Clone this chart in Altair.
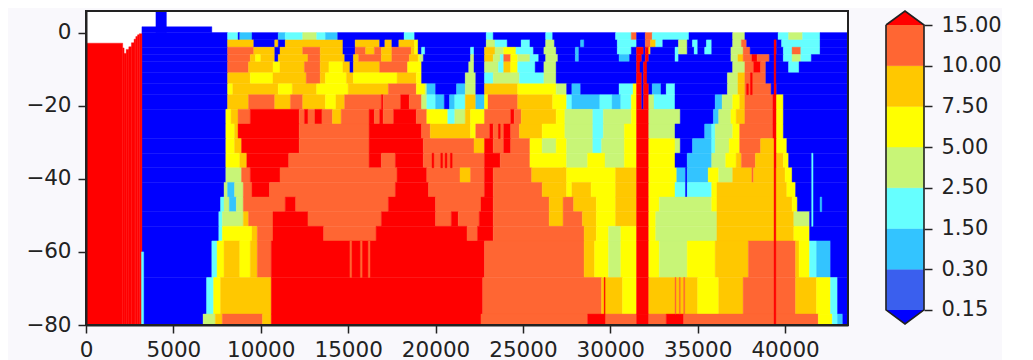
import altair as alt
import pandas as pd

# colour codes, lowest band to highest
level_codes = list("abcdefghi")
level_colors = ["#0000ff", "#3a5fee", "#33c4ff", "#66ffff", "#c8f577", "#ffff00", "#ffc800", "#ff6633", "#ff0000"]
tick_labels = ["0.15", "0.30", "1.50", "2.50", "5.00", "7.50", "10.00", "15.00"]

# depth bands (m)
row_top = [0, -2, -4, -6, -8, -11, -14, -17, -21, -25, -29, -33, -37, -41, -45, -49, -53, -57, -67, -77]
row_bottom = [-2, -4, -6, -8, -11, -14, -17, -21, -25, -29, -33, -37, -41, -45, -49, -53, -57, -67, -77, -80]

# run lengths for each band: level code + end of run along x, in hundreds of metres, from x=32
row_runs = [
    "a81 d87 a88 c95 a110 c114 d124 e132 d137 c144 a182 d188 a229 d233 a263 d267 a303 d312 h315 a320 h324 d345 a370 e377 a396 d402 e410 d420 a436",
    "a81 g96 a108 g110 a114 g147 a154 g168 a171 g175 a179 g188 f190 a229 e234 d241 a249 d254 a263 e268 a283 c285 a304 d315 a320 h323 g326 d330 a339 e344 a347 d350 a355 d358 a370 e375 h378 a394 i395 a398 d420 a436",
    "a81 h96 g108 a111 g124 h134 g147 a154 h160 g165 h169 g175 h186 g188 f190 a192 d194 a220 d222 a228 g234 e239 f246 d256 a262 e269 a280 c282 a304 d312 a315 i319 a320 i322 g323 a337 d339 e344 a348 d350 a354 d358 a369 e376 h380 a394 i395 a399 d404 h409 d420 a436",
    "a81 h94 g97 f100 g108 a110 g127 h134 g148 a153 g156 h169 g175 h185 g190 f191 e193 a220 e222 a228 g233 e237 d239 h243 f247 e254 d259 a263 e270 a280 c282 a305 c311 a315 i318 a320 i322 a337 d339 a369 e373 g376 h381 i384 h391 a399 d404 e409 d415 a436",
    "a81 h93 g107 f111 g125 h134 g139 f147 g151 a153 g168 h184 f192 a219 e222 a228 e236 d239 g243 f247 d257 a262 e269 a315 i317 a319 i321 a370 e377 h382 i386 h389 a402 d408 a436",
    "a81 g94 f107 g126 h134 g137 f149 g153 f178 g189 f192 a217 e223 a228 d233 e248 d262 e269 a315 i318 a319 i321 a367 e373 g377 h389 a436",
    "a81 f84 g110 f118 g132 f150 g173 h189 f194 e195 c200 a212 c217 e223 a228 g247 f269 e275 a278 c283 a305 d313 f315 i318 a319 i322 a324 c329 a332 d337 a367 e373 g377 h392 a394 i395 a436",
    "a81 g93 h108 g117 h124 g137 f143 g148 h169 i170 h180 i185 h192 e195 d200 c205 a208 c211 d217 g223 c228 f230 h247 g267 f275 d278 c294 d301 c306 d312 f315 i318 a319 i322 e325 d337 a360 c364 e370 f374 g377 h393 i395 f399 a436",
    "a80 f83 g87 h94 i122 h125 i127 h131 i135 h141 g146 h162 i165 h168 i170 h176 i189 h195 f207 d211 e217 g220 f228 h243 i245 h249 g269 f274 e290 d296 e312 f315 i322 e340 a359 c362 e369 f372 g377 h393 i395 f399 a436",
    "a80 f85 g87 i122 h162 i192 h197 g220 f223 h231 i233 h239 i243 h248 g261 f274 e290 d296 e308 f315 i322 e337 a354 c358 d360 e370 f374 h393 i395 f399 a436",
    "a80 f85 g89 i122 h162 i193 h222 g228 i233 h239 i243 h254 f261 e269 f275 e290 d295 e308 f315 i322 f337 e340 a347 c358 d360 e368 f374 h386 g394 i395 f401 a436",
    "a80 f88 g92 i116 h162 i169 h177 i193 h228 i237 h254 f275 e287 f297 e308 f315 i322 f337 a344 c358 e366 f372 g375 h383 g394 i395 g399 f402 a436",
    "a80 e89 h94 i111 h178 i195 h214 g220 h228 i233 h255 g275 f303 g315 i322 f338 c343 a344 c356 f362 e370 g381 h382 g400 f404 a436",
    "a79 e81 c85 e90 h95 i105 h177 i196 h228 i233 h261 g275 f278 g289 f303 g315 i322 f337 d343 a344 d358 f361 g401 f406 a436",
    "a77 d79 e82 c86 e90 h114 i120 h173 i200 h226 i233 h265 g273 h279 g292 f303 g315 i322 f328 e358 f361 g404 f407 a436",
    "a76 d78 e90 g93 h107 i127 h169 i200 h209 i213 h225 i233 h265 g273 h284 g292 f303 g315 i322 f326 e361 g405 e414 a436",
    "a76 d78 f95 g98 h107 i136 h166 i218 h224 i233 h285 g292 f299 e306 f315 i322 f326 e361 g405 f414 a436",
    "a72 d75 f79 g88 f94 g98 h106 i228 h285 g291 f299 e306 f315 i322 f328 e344 f360 g379 h406 g408 f414 d418 c426 a436",
    "a69 d73 f77 g106 i227 h295 g307 f315 i322 g350 f362 g376 h406 g418 f426 d430 a436",
    "a67 e74 g78 h101 g106 i226 h287 i297 h315 i322 h332 i342 h419 f427 d430 c433 a436",
]

# red column on the left: end along x (hundreds of metres) and its top depth (m)
red_ends = [21, 21.8, 23, 24.5, 26, 27.5, 28.5, 29.5, 30.5, 32]
red_tops = [-2.9, -4.2, -5.7, -4.6, -3.9, -2.8, -1.8, -1.1, -0.6, -0.3]

# blue above the surface: start, end, height (m)
blue_starts = [32, 40]
blue_ends = [72, 46]
blue_heights = [1.6, 5.9]

# narrow streaks: start, end (hundreds of metres), top, bottom (m), level
streak_start = [393.7, 151, 157, 161.5, 198, 203, 205.5, 208.5, 273, 380.2, 415.2, 420, 31.7, 296.5, 337, 339.5, 342, 34, 378, 236]
streak_end = [394.7, 152, 158, 162.5, 199, 204, 206.5, 209.5, 274, 381.2, 416, 421, 33, 297, 337.6, 340, 342.6, 35, 379, 237]
streak_top = [-2, -57, -57, -57, -33, -33, -33, -33, -37, -11, -33, -45, -60, -67, -67, -67, -67, -80, -14, -25]
streak_bottom = [-80, -67, -67, -67, -37, -37, -37, -37, -45, -17, -53, -49, -80, -80, -77, -77, -77, -80, -17, -29]
streak_level = ["i", "h", "h", "h", "i", "i", "i", "i", "g", "i", "d", "c", "d", "i", "h", "h", "h", "i", "i", "i"]

records = []
for top, bottom, runs in zip(row_top, row_bottom, row_runs):
    start = 32
    for run in runs.split():
        end = float(run[1:])
        records.append(dict(x0=start * 100, x1=end * 100, y0=top, y1=bottom, level=run[0]))
        start = end
start = 0
for end, top in zip(red_ends, red_tops):
    records.append(dict(x0=start * 100, x1=end * 100, y0=top, y1=-80, level="i"))
    start = end
for s, e, h in zip(blue_starts, blue_ends, blue_heights):
    records.append(dict(x0=s * 100, x1=e * 100, y0=h, y1=0, level="a"))
for s, e, t, b, l in zip(streak_start, streak_end, streak_top, streak_bottom, streak_level):
    records.append(dict(x0=s * 100, x1=e * 100, y0=t, y1=b, level=l))
df = pd.DataFrame(records)

INK = "#222222"
FONT = "DejaVu Sans"
X_MAX, Y_MIN, Y_MAX = 43600, -80, 5.9

color = alt.Color("level:N", scale=alt.Scale(domain=level_codes, range=level_colors), legend=None)
xax = alt.Axis(values=[0, 5000, 10000, 15000, 20000, 25000, 30000, 35000, 40000], format="d", title=None, grid=False,
               labelFontSize=21.5, tickSize=8, tickWidth=1.5, tickColor=INK, labelColor=INK, domainColor=INK,
               domainWidth=2, labelFont=FONT, labelFlush=False, labelPadding=6, zindex=1)
yax = alt.Axis(values=[0, -20, -40, -60, -80], title=None, grid=False, labelFontSize=21.5, tickSize=8, tickWidth=1.5,
               tickColor=INK, labelColor=INK, domainColor=INK, domainWidth=2, labelFont=FONT, labelPadding=7,
               labelExpr="replace(format(datum.value,'d'),'-','\u2212')", zindex=1)

field = alt.Chart(df).mark_rect(strokeWidth=0.4).encode(
    x=alt.X("x0:Q", scale=alt.Scale(domain=[0, X_MAX], nice=False), axis=xax),
    x2="x1:Q",
    y=alt.Y("y0:Q", scale=alt.Scale(domain=[Y_MIN, Y_MAX], nice=False), axis=yax),
    y2="y1:Q",
    color=color,
    stroke=color,
)
frame_df = pd.DataFrame({"x0": [0], "x1": [X_MAX], "y0": [Y_MIN], "y1": [Y_MAX]})
frame = alt.Chart(frame_df).mark_rect(filled=False, stroke=INK, strokeWidth=2).encode(
    x="x0:Q", x2="x1:Q", y="y0:Q", y2="y1:Q"
)
main = alt.layer(field, frame).properties(width=762, height=314, view=alt.ViewBackground(fill="#ffffff", stroke=None))

# colour bar
CB_LOW, CB_HIGH = -0.371, 7.344
cb_df = pd.DataFrame({"low": list(range(7)), "high": list(range(1, 8)), "level": list("bcdefgh"), "x0": [0] * 7, "x1": [1] * 7})
cy = alt.Y("low:Q", scale=alt.Scale(domain=[CB_LOW, CB_HIGH], nice=False),
           axis=alt.Axis(orient="right", values=list(range(8)), title=None, grid=False, domain=False, labelFontSize=21,
                         tickSize=8, tickWidth=1.5, tickColor=INK, labelColor=INK, labelFont=FONT, labelPadding=9,
                         labelExpr="[" + ",".join("'%s'" % t for t in tick_labels) + "][datum.value]"))
cb_bars = alt.Chart(cb_df).mark_rect(strokeWidth=0.4).encode(
    x=alt.X("x0:Q", scale=alt.Scale(domain=[0, 1], nice=False), axis=None),
    x2="x1:Q", y=cy, y2="high:Q", color=color, stroke=color)
up_df = pd.DataFrame({"x": [0, 0.5, 1], "y": [7, CB_HIGH, 7], "base": [7, 7, 7]})
down_df = pd.DataFrame({"x": [0, 0.5, 1], "y": [0, -0.344, 0], "base": [0, 0, 0]})
up = alt.Chart(up_df).mark_area(color="#ff0000").encode(x="x:Q", y="y:Q", y2="base:Q")
down = alt.Chart(down_df).mark_area(color="#0000ff").encode(x="x:Q", y="y:Q", y2="base:Q")
outline_df = pd.DataFrame({"x": [0, 0.5, 1, 1, 0.5, 0, 0], "y": [7, CB_HIGH, 7, 0, -0.344, 0, 7], "o": list(range(7))})
outline = alt.Chart(outline_df).mark_line(color=INK, strokeWidth=1.6, clip=False).encode(x="x:Q", y="y:Q", order="o:Q")
cbar = alt.layer(cb_bars, up, down, outline).properties(
    width=38, height=314, view=alt.ViewBackground(stroke=None))

chart = alt.hconcat(main, cbar, spacing=33, background="#f9f8fc",
                    padding={"left": 17, "top": -1, "right": 0, "bottom": 0}).resolve_scale(
    color="shared", x="independent", y="independent")
chart.save("out.html", embed_options={"renderer": "svg", "actions": False})
